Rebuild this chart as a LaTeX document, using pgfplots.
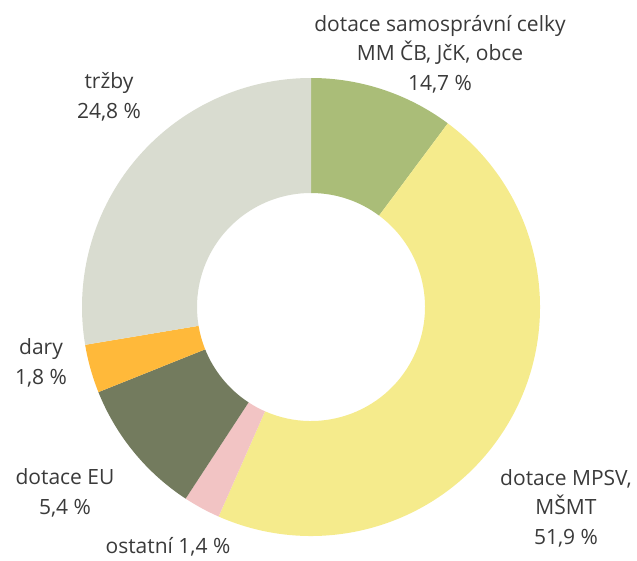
\documentclass[border=0pt]{standalone}
\usepackage{pgfplots}
\pgfplotsset{compat=1.18}
\usepackage{pgfplotstable}
\usepackage{fontspec}
\setmainfont{Open Sans}
\definecolor{cgreen}{HTML}{AABD78}
\definecolor{cyellow}{HTML}{F5EB8C}
\definecolor{cpink}{HTML}{F2C4C4}
\definecolor{colive}{HTML}{737B5E}
\definecolor{corange}{HTML}{FFB93A}
\definecolor{cgray}{HTML}{D9DCD0}
\definecolor{textgray}{HTML}{3A3A3A}
% share of the full circle as drawn (starting at top, clockwise)
\pgfplotstableread{
share color
10.19 cgreen
46.42 cyellow
2.61 cpink
9.72 colive
3.42 corange
27.64 cgray
}\piedata
\begin{document}
\begin{tikzpicture}[x=1bp,y=1bp]
\useasboundingbox (0,0) rectangle (637,-561);
\begin{axis}[hide axis, scale only axis, width=458bp, height=458bp,
  xmin=-1, xmax=1, ymin=-1, ymax=1, at={(311bp,-307bp)}, anchor=center, clip=false]
\pgfplotsextra{
  \pgfplotstablegetrowsof{\piedata}
  \pgfmathtruncatemacro{\N}{\pgfplotsretval-1}
  \gdef\cumsum{0}
  \foreach \i in {0,...,\N}{
    \pgfplotstablegetelem{\i}{share}\of{\piedata}\let\sliceval\pgfplotsretval
    \pgfplotstablegetelem{\i}{color}\of{\piedata}\let\slicecol\pgfplotsretval
    \pgfmathsetmacro{\aone}{90-3.6*\cumsum}
    \pgfmathsetmacro{\atwo}{90-3.6*(\cumsum+\sliceval)}
    \fill[\slicecol, shift={(axis cs:0,0)}] (\aone:229bp) arc[start angle=\aone, end angle=\atwo, radius=229bp]
      -- (\atwo:114bp) arc[start angle=\atwo, end angle=\aone, radius=114bp] -- cycle;
    \pgfmathsetmacro{\newcum}{\cumsum+\sliceval}
    \xdef\cumsum{\newcum}
  }
}
\end{axis}
\begin{scope}[every node/.style={inner sep=0pt, text=textgray, font=\fontsize{21bp}{29.5bp}\selectfont, align=center}]
\node at (440,-54) {dotace samosprávní celky\\MM ČB, JčK, obce\\14,7 \%};
\node at (109,-97) {tržby\\24,8 \%};
\node at (41,-363) {dary\\1,8 \%};
\node at (65,-493) {dotace EU\\5,4 \%};
\node at (168,-547) {ostatní 1,4 \%};
\node at (566,-508) {dotace MPSV,\\MŠMT\\51,9 \%};
\end{scope}
\end{tikzpicture}
\end{document}
